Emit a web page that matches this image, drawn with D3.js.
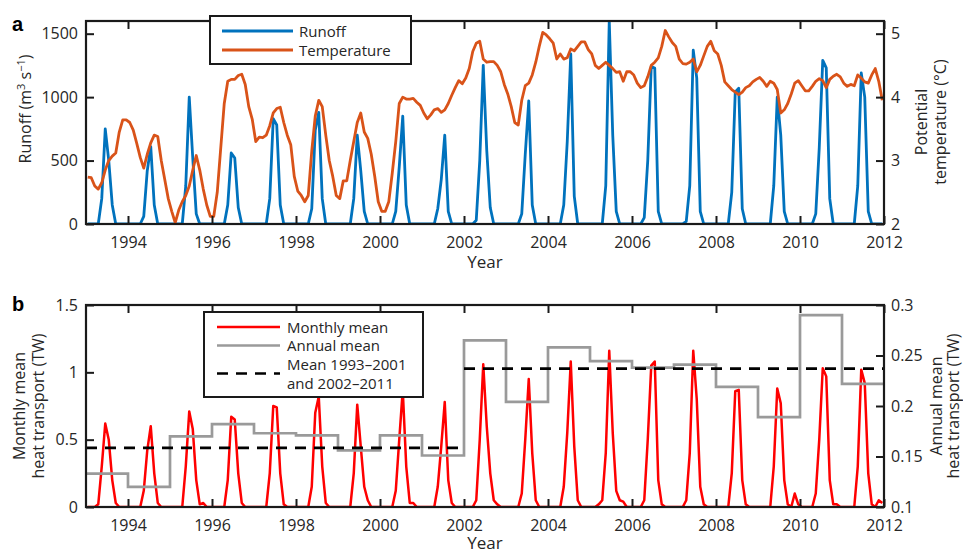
<!DOCTYPE html>
<html><head><meta charset="utf-8">
<script src="https://cdn.jsdelivr.net/npm/d3@7"></script>
<style>
body{margin:0;background:#fff;}
svg{display:block;font-family:"Open Sans",sans-serif;}
</style></head><body>
<svg id="chart" width="963" height="554"></svg>
<script>
// ---------------- DATA ----------------
const years = [1993,1994,1995,1996,1997,1998,1999,2000,2001,2002,2003,2004,2005,2006,2007,2008,2009,2010,2011];
const xTicks = [1994,1996,1998,2000,2002,2004,2006,2008,2010,2012];
const runoffTicks = [0,500,1000,1500];
const tempTicks = [2,3,4,5];
const heatTicks = [0,0.5,1,1.5];
const annualTicks = [0.1,0.15,0.2,0.25,0.3];

// monthly runoff (m3 s-1), Jan..Dec for each year
const runoff = [
 [0,0,0,0,200,750,500,150,0,0,0,0],
 [0,0,0,0,60,420,610,150,0,0,0,0],
 [0,0,0,0,300,1000,520,80,0,0,0,0],
 [0,0,0,0,150,560,520,130,0,0,0,0],
 [0,0,0,0,200,830,780,150,0,0,0,0],
 [0,0,0,0,120,740,880,200,0,0,0,0],
 [0,0,0,0,200,700,420,100,0,0,0,0],
 [0,0,0,0,100,450,850,150,0,0,0,0],
 [0,0,0,0,120,350,700,100,0,0,0,0],
 [0,0,0,30,500,1250,580,130,0,0,0,0],
 [0,0,0,0,80,550,970,150,0,0,0,0],
 [0,0,0,0,150,650,1340,220,0,0,0,0],
 [0,0,0,0,300,1600,700,100,0,0,0,0],
 [0,0,0,50,500,1240,1230,100,0,0,0,0],
 [0,0,0,20,300,1370,1150,100,0,0,0,0],
 [0,0,0,0,250,1040,1070,120,0,0,0,0],
 [0,0,0,0,300,1000,700,100,0,0,0,0],
 [0,0,0,0,80,600,1290,1230,200,0,0,0],
 [0,0,0,0,300,1190,1000,100,0,0,0,0]
];

// monthly potential temperature (°C)
const temperature = [
 [2.74,2.73,2.6,2.55,2.65,2.85,3.0,3.07,3.12,3.45,3.64,3.64],
 [3.6,3.48,3.27,3.05,2.88,3.1,3.28,3.4,3.38,3.0,2.7,2.4],
 [2.2,2.02,2.22,2.35,2.45,2.6,2.85,3.08,2.85,2.55,2.3,2.12],
 [2.12,2.5,3.2,3.9,4.25,4.28,4.28,4.34,4.36,4.2,3.85,3.65],
 [3.3,3.37,3.36,3.4,3.55,3.75,3.82,3.84,3.6,3.4,3.25,2.75],
 [2.52,2.45,2.35,2.45,3.15,3.7,3.95,3.85,3.4,3.0,2.75,2.45],
 [2.4,2.68,2.68,3.0,3.3,3.6,3.75,3.45,3.35,3.1,2.75,2.35],
 [2.2,2.2,2.35,2.8,3.3,3.9,4.0,3.97,3.97,3.98,3.92,3.87],
 [3.75,3.66,3.72,3.8,3.82,3.76,3.8,3.9,4.03,4.15,4.26,4.21],
 [4.3,4.45,4.72,4.85,4.88,4.6,4.55,4.56,4.56,4.5,4.4,4.2],
 [4.05,3.85,3.6,3.56,3.95,4.18,4.22,4.35,4.55,4.8,5.02,4.98],
 [4.92,4.85,4.6,4.68,4.6,4.62,4.76,4.73,4.8,4.87,4.87,4.75],
 [4.68,4.5,4.45,4.5,4.55,4.5,4.45,4.39,4.4,4.25,4.4,4.4],
 [4.35,4.22,4.15,4.18,4.32,4.5,4.55,4.62,4.8,5.05,4.95,4.86],
 [4.8,4.6,4.53,4.52,4.55,4.6,4.4,4.5,4.65,4.8,4.88,4.73],
 [4.68,4.5,4.24,4.18,4.12,4.08,4.04,4.08,4.15,4.18,4.24,4.28],
 [4.31,4.25,4.17,4.25,4.22,4.12,3.75,3.8,3.9,4.05,4.22,4.26],
 [4.18,4.1,4.1,4.17,4.25,4.29,4.26,4.15,4.28,4.33,4.36,4.32],
 [4.22,4.17,4.2,4.18,4.35,4.3,4.24,4.22,4.35,4.45,4.25,3.95]
];

// monthly mean heat transport (TW)
const heatMonthly = [
 [0,0,0,0.02,0.3,0.62,0.5,0.2,0.03,0,0,0],
 [0,0,0,0,0.12,0.42,0.6,0.25,0.03,0,0,0],
 [0,0,0,0,0.3,0.71,0.58,0.2,0.02,0.03,0,0],
 [0,0,0,0,0.2,0.67,0.65,0.25,0.03,0,0,0],
 [0,0,0,0,0.25,0.75,0.74,0.25,0.02,0,0,0],
 [0,0,0,0,0.15,0.7,0.82,0.3,0.03,0,0,0],
 [0,0,0,0,0.25,0.76,0.45,0.15,0.05,0,0,0],
 [0,0,0,0,0.12,0.5,0.87,0.3,0.03,0.03,0,0],
 [0,0,0,0,0.15,0.45,0.78,0.2,0.03,0,0,0],
 [0,0,0,0.05,0.5,1.06,0.6,0.25,0.05,0.02,0,0],
 [0,0,0,0,0.1,0.5,0.95,0.4,0.05,0,0,0],
 [0,0,0,0,0.15,0.55,1.08,0.45,0.05,0,0,0],
 [0,0,0.02,0.05,0.4,1.16,0.55,0.12,0.05,0.04,0,0],
 [0,0,0,0.05,0.5,1.05,1.08,0.2,0.02,0,0,0],
 [0,0,0,0.05,0.4,1.16,0.8,0.15,0.02,0,0,0],
 [0,0,0,0,0.25,0.86,0.87,0.2,0.02,0,0,0],
 [0,0,0,0,0.3,0.88,0.77,0.2,0.02,0,0.1,0.02],
 [0,0,0,0,0.1,0.5,1.03,0.97,0.2,0.02,0.02,0],
 [0,0,0,0,0.3,1.02,0.92,0.25,0.02,0,0.05,0.03]
];

// annual mean heat transport (TW), right axis
const annualMean = [0.133,0.12,0.17,0.182,0.173,0.171,0.156,0.171,0.151,0.265,0.204,0.258,0.2445,0.238,0.241,0.219,0.189,0.29,0.222];
const periods = [[1993,2001],[2002,2011]];

// ---------------- LAYOUT ----------------
const svg = d3.select("#chart");
const X0 = 86, X1 = 884;
const pTop = {y0: 21, y1: 224};
const pBot = {y0: 305, y1: 507};
const textCol = "#262626";
const frameCol = "#1a1a1a";

const x = d3.scaleLinear().domain([1993, 2012]).range([X0, X1]);
const yRun = d3.scaleLinear().domain([0, 1600]).range([pTop.y1, pTop.y0]);
const yTemp = d3.scaleLinear().domain([2, 5.2]).range([pTop.y1, pTop.y0]);
const yHeat = d3.scaleLinear().domain([0, 1.5]).range([pBot.y1, pBot.y0]);
const yAnn = d3.scaleLinear().domain([0.1, 0.3]).range([pBot.y1, pBot.y0]);

function monthly(arr) {
  const out = [];
  arr.forEach((row, yi) => row.forEach((v, m) => out.push({t: years[yi] + (m + 0.5) / 12, v})));
  return out;
}

const defs = svg.append("defs");
defs.append("clipPath").attr("id", "clipTop").append("rect")
  .attr("x", X0).attr("y", pTop.y0 - 1).attr("width", X1 - X0).attr("height", pTop.y1 - pTop.y0 + 2);
defs.append("clipPath").attr("id", "clipBot").append("rect")
  .attr("x", X0).attr("y", pBot.y0 - 1).attr("width", X1 - X0).attr("height", pBot.y1 - pBot.y0 + 2);

function styleAxis(g, fs) {
  g.select(".domain").remove();
  g.selectAll(".tick line").attr("stroke", frameCol).attr("stroke-width", 2);
  g.selectAll(".tick text").attr("fill", textCol).style("font-size", fs + "px").style("font-family", '"Open Sans", sans-serif');
}

function drawAxes(p, yL, yR, lTicks, rTicks, lFmt, rFmt) {
  const gx = svg.append("g").attr("transform", `translate(0,${p.y1})`)
    .call(d3.axisBottom(x).tickValues(xTicks).tickFormat(d3.format("d")).tickSize(-8).tickPadding(13));
  styleAxis(gx, 16);
  const gxt = svg.append("g").attr("transform", `translate(0,${p.y0})`)
    .call(d3.axisTop(x).tickValues(xTicks).tickFormat("").tickSize(-8));
  styleAxis(gxt, 16);
  const gl = svg.append("g").attr("transform", `translate(${X0},0)`)
    .call(d3.axisLeft(yL).tickValues(lTicks).tickFormat(lFmt).tickSize(-8).tickPadding(8));
  styleAxis(gl, 16);
  const gr = svg.append("g").attr("transform", `translate(${X1},0)`)
    .call(d3.axisRight(yR).tickValues(rTicks).tickFormat(rFmt).tickSize(-8).tickPadding(7));
  styleAxis(gr, 16);
  svg.append("rect").attr("x", X0).attr("y", p.y0).attr("width", X1 - X0).attr("height", p.y1 - p.y0)
    .attr("fill", "none").attr("stroke", frameCol).attr("stroke-width", 2.2);
}

// ---------------- PANEL A ----------------
const gA = svg.append("g").attr("clip-path", "url(#clipTop)");
const lineRun = d3.line().x(d => x(d.t)).y(d => yRun(d.v));
const lineTemp = d3.line().x(d => x(d.t)).y(d => yTemp(d.v));
gA.append("path").datum(monthly(runoff)).attr("d", lineRun)
  .attr("fill", "none").attr("stroke", "#0072BD").attr("stroke-width", 2.8).attr("stroke-linejoin", "round");
gA.append("path").datum(monthly(temperature)).attr("d", lineTemp)
  .attr("fill", "none").attr("stroke", "#D95319").attr("stroke-width", 2.8).attr("stroke-linejoin", "round");

drawAxes(pTop, yRun, yTemp, runoffTicks, tempTicks, d3.format("d"), d3.format("d"));

// ---------------- PANEL B ----------------
const gB = svg.append("g").attr("clip-path", "url(#clipBot)");
const lineHeat = d3.line().x(d => x(d.t)).y(d => yHeat(d.v));
gB.append("path").datum(monthly(heatMonthly)).attr("d", lineHeat)
  .attr("fill", "none").attr("stroke", "#FF0000").attr("stroke-width", 2.5).attr("stroke-linejoin", "round");

const annPts = years.map((yr, i) => ({t: yr, v: annualMean[i]}));
annPts.push({t: years[years.length - 1] + 1, v: annualMean[annualMean.length - 1]});
gB.append("path").datum(annPts)
  .attr("d", d3.line().x(d => x(d.t)).y(d => yAnn(d.v)).curve(d3.curveStepAfter))
  .attr("fill", "none").attr("stroke", "#9a9a9a").attr("stroke-width", 2.7);

periods.forEach(([a, b]) => {
  const vals = annualMean.filter((v, i) => years[i] >= a && years[i] <= b);
  const m = d3.mean(vals);
  gB.append("line").attr("x1", x(a)).attr("x2", x(b + 1)).attr("y1", yAnn(m)).attr("y2", yAnn(m))
    .attr("stroke", "#000").attr("stroke-width", 2.7).attr("stroke-dasharray", "11,8");
});

drawAxes(pBot, yHeat, yAnn, heatTicks, annualTicks, d => String(d), d => String(d));

// ---------------- TEXT ----------------
function txt(xp, yp, s, opts = {}) {
  const t = svg.append("text").attr("x", xp).attr("y", yp).attr("fill", opts.fill || textCol)
    .style("font-size", (opts.fs || 16) + "px").attr("text-anchor", opts.anchor || "start");
  if (opts.weight) t.style("font-weight", opts.weight);
  if (opts.family) t.style("font-family", opts.family);
  if (opts.rot) t.attr("transform", `rotate(-90,${xp},${yp})`);
  t.text(s);
  return t;
}

txt(12, 31, "a", {fs: 20, weight: "bold", fill: "#000", family: '"Liberation Sans", Arial, sans-serif'});
txt(12, 311, "b", {fs: 20, weight: "bold", fill: "#000", family: '"Liberation Sans", Arial, sans-serif'});

txt((X0 + X1) / 2, 268, "Year", {anchor: "middle", fs: 17});
txt((X0 + X1) / 2, 549, "Year", {anchor: "middle", fs: 17});

// Runoff title with superscripts
{
  const t = svg.append("text").attr("transform", "translate(31,109) rotate(-90)")
    .attr("text-anchor", "middle").attr("fill", textCol).style("font-size", "16px");
  t.append("tspan").text("Runoff (m");
  t.append("tspan").attr("dy", -6).style("font-size", "11px").text("3");
  t.append("tspan").attr("dy", 6).text(" s");
  t.append("tspan").attr("dy", -6).style("font-size", "11px").text("−1");
  t.append("tspan").attr("dy", 6).text(")");
}
txt(927, 122, "Potential", {anchor: "middle", rot: true, fs: 16});
txt(946, 122, "temperature (°C)", {anchor: "middle", rot: true, fs: 16});

txt(25, 406, "Monthly mean", {anchor: "middle", rot: true, fs: 16});
txt(44, 406, "heat transport (TW)", {anchor: "middle", rot: true, fs: 16});
txt(942, 406, "Annual mean", {anchor: "middle", rot: true, fs: 16});
txt(959, 406, "heat transport (TW)", {anchor: "middle", rot: true, fs: 16});

// ---------------- LEGENDS ----------------
svg.append("rect").attr("x", 210).attr("y", 16).attr("width", 201).attr("height", 48)
  .attr("fill", "#fff").attr("stroke", frameCol).attr("stroke-width", 2);
const legA = [
  {label: "Runoff", color: "#0072BD", y: 31},
  {label: "Temperature", color: "#D95319", y: 50}
];
legA.forEach(d => {
  svg.append("line").attr("x1", 222).attr("x2", 293).attr("y1", d.y).attr("y2", d.y)
    .attr("stroke", d.color).attr("stroke-width", 2.8);
  txt(299, d.y + 5.5, d.label, {fs: 15});
});

svg.append("rect").attr("x", 204).attr("y", 312).attr("width", 219).attr("height", 85)
  .attr("fill", "#fff").attr("stroke", frameCol).attr("stroke-width", 2);
const legB = [
  {label: ["Monthly mean"], color: "#FF0000", y: 327, dash: null},
  {label: ["Annual mean"], color: "#9a9a9a", y: 345.5, dash: null},
  {label: ["Mean 1993–2001", "and 2002–2011"], color: "#000", y: 373.5, dash: "11,8"}
];
legB.forEach(d => {
  const l = svg.append("line").attr("x1", 217).attr("x2", 280).attr("y1", d.y).attr("y2", d.y)
    .attr("stroke", d.color).attr("stroke-width", 2.7);
  if (d.dash) l.attr("stroke-dasharray", d.dash);
  if (d.label.length === 1) txt(287, d.y + 5.5, d.label[0], {fs: 15});
  else {
    txt(287, d.y - 3.5, d.label[0], {fs: 15});
    txt(287, d.y + 15, d.label[1], {fs: 15});
  }
});
</script>
</body></html>
